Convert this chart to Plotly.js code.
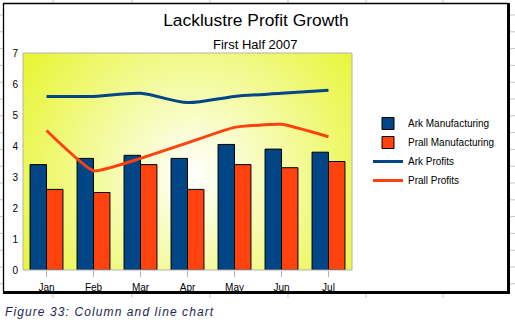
<!DOCTYPE html>
<html>
<head>
<meta charset="utf-8">
<script src="https://cdn.plot.ly/plotly-3.0.1.min.js"></script>
<style>
html,body{margin:0;padding:0;background:#fff;}
#chart{width:515px;height:328px;}
g.annotation[data-index="1"] text{letter-spacing:1.1px;}
</style>
</head>
<body>
<div id="chart"></div>
<script>
const months = ["Jan","Feb","Mar","Apr","May","Jun","Jul"];
const arkManufacturing = [3.4, 3.6, 3.7, 3.6, 4.05, 3.9, 3.8];
const prallManufacturing = [2.6, 2.5, 3.4, 2.6, 3.4, 3.3, 3.5];
const arkProfits = [5.6, 5.6, 5.7, 5.4, 5.6, 5.7, 5.8];
const prallProfits = [4.5, 3.2, 3.6, 4.1, 4.6, 4.7, 4.3];
const yTicks = [0,1,2,3,4,5,6,7];

const W = 515, H = 328;
const PL = 23, PR = 352, PT = 53, PB = 270;
const PW = PR - PL, PH = PB - PT;
const px = v => (v - PL) / PW;
const py = v => (PB - v) / PH;

function gradientURL(){
  const w = PW, h = PH;
  const c = document.createElement('canvas');
  c.width = w; c.height = h;
  const g = c.getContext('2d');
  const cx = w*0.52, cy = h*0.56;
  const R = Math.hypot(Math.max(cx, w-cx), Math.max(cy, h-cy));
  const grd = g.createRadialGradient(cx, cy, 0, cx, cy, R);
  grd.addColorStop(0, '#ffffff');
  grd.addColorStop(1, '#e6f52e');
  g.fillStyle = grd;
  g.fillRect(0, 0, w, h);
  return c.toDataURL('image/png');
}

const BLUE = '#004586', ORANGE = '#ff420e';
const sans = 'Liberation Sans, Arial, sans-serif';

const traces = [
  {type:'bar', name:'Ark Manufacturing', x:months, y:arkManufacturing,
   marker:{color:BLUE, line:{color:'#000', width:1}}},
  {type:'bar', name:'Prall Manufacturing', x:months, y:prallManufacturing,
   marker:{color:ORANGE, line:{color:'#000', width:1}}},
  {type:'scatter', mode:'lines', name:'Ark Profits', x:months, y:arkProfits,
   line:{color:BLUE, width:3, shape:'spline', smoothing:0.8}},
  {type:'scatter', mode:'lines', name:'Prall Profits', x:months, y:prallProfits,
   line:{color:ORANGE, width:3, shape:'spline', smoothing:0.4}}
];

const shapes = [];
const gray = '#c4c4c4';
[53,132,210,288,366,443].forEach(x => {
  shapes.push({type:'line', xref:'paper', yref:'paper', x0:px(x), x1:px(x), y0:py(0), y1:py(3), line:{color:gray, width:1}, layer:'above'});
  shapes.push({type:'line', xref:'paper', yref:'paper', x0:px(x), x1:px(x), y0:py(294), y1:py(298), line:{color:gray, width:1}, layer:'above'});
});
for (let k = 0; k < 17; k++) {
  const y = 15 + 16.8*k;
  shapes.push({type:'line', xref:'paper', yref:'paper', x0:px(510), x1:px(515), y0:py(y), y1:py(y), line:{color:gray, width:1}, layer:'above'});
  shapes.push({type:'line', xref:'paper', yref:'paper', x0:px(0), x1:px(3), y0:py(y), y1:py(y), line:{color:gray, width:1}, layer:'above'});
}
shapes.push({type:'rect', xref:'paper', yref:'paper', x0:0, x1:1, y0:0, y1:1, line:{color:'#b3b3b3', width:1}, layer:'above'});
shapes.push({type:'line', xref:'paper', yref:'paper', x0:px(3), x1:px(508), y0:py(3.5), y1:py(3.5), line:{color:'#000', width:1.3}, layer:'above'});
shapes.push({type:'line', xref:'paper', yref:'paper', x0:px(3.5), x1:px(3.5), y0:py(3), y1:py(292), line:{color:'#000', width:1.3}, layer:'above'});
shapes.push({type:'line', xref:'paper', yref:'paper', x0:px(508.5), x1:px(508.5), y0:py(3), y1:py(294), line:{color:'#000', width:3}, layer:'above'});
shapes.push({type:'line', xref:'paper', yref:'paper', x0:px(3), x1:px(510), y0:py(292.5), y1:py(292.5), line:{color:'#000', width:3}, layer:'above'});

const layout = {
  width: W, height: H,
  margin:{l:PL, r:W-PR, t:PT, b:H-PB, pad:0},
  paper_bgcolor:'#ffffff',
  plot_bgcolor:'rgba(0,0,0,0)',
  barmode:'group', bargap:0.3, bargroupgap:0,
  title:{text:'Lacklustre Profit Growth', x:256/W, xref:'container', xanchor:'center',
         y:1-20/H, yref:'container', yanchor:'middle',
         font:{family:sans, size:17.4, color:'#000'}},
  xaxis:{type:'category', range:[-0.5,6.5], showgrid:false, zeroline:false, showline:false,
         ticks:'outside', ticklen:6, tickcolor:'#b3b3b3', tickwidth:1,
         tickfont:{family:sans, size:10, color:'#000'}, ticklabelstandoff:2, fixedrange:true},
  yaxis:{range:[0,7], tickvals:yTicks, ticktext:yTicks.map(String), showgrid:false, zeroline:false,
         showline:false, ticks:'', tickfont:{family:sans, size:10, color:'#000'},
         ticklabelstandoff:4, fixedrange:true},
  legend:{x:px(368), xanchor:'left', y:py(109), yanchor:'top', bgcolor:'rgba(0,0,0,0)',
          font:{family:sans, size:10, color:'#000'}, itemwidth:30, tracegroupgap:0},
  images:[{source:gradientURL(), xref:'paper', yref:'paper', x:0, y:1, sizex:1, sizey:1,
           xanchor:'left', yanchor:'top', sizing:'stretch', layer:'below'}],
  annotations:[
    {text:'First Half 2007', xref:'paper', yref:'paper', x:px(255.5), y:py(45), xanchor:'center', yanchor:'middle',
     showarrow:false, font:{family:sans, size:13, color:'#000'}},
    {text:'<i>Figure 33: Column and line chart</i>', xref:'paper', yref:'paper', x:px(3), y:py(312), xanchor:'left', yanchor:'middle',
     align:'left', showarrow:false, font:{family:sans, size:12, color:'#1c2652'}}
  ],
  shapes: shapes,
  showlegend:true
};

Plotly.newPlot('chart', traces, layout, {displayModeBar:false, staticPlot:true});
</script>
</body>
</html>
